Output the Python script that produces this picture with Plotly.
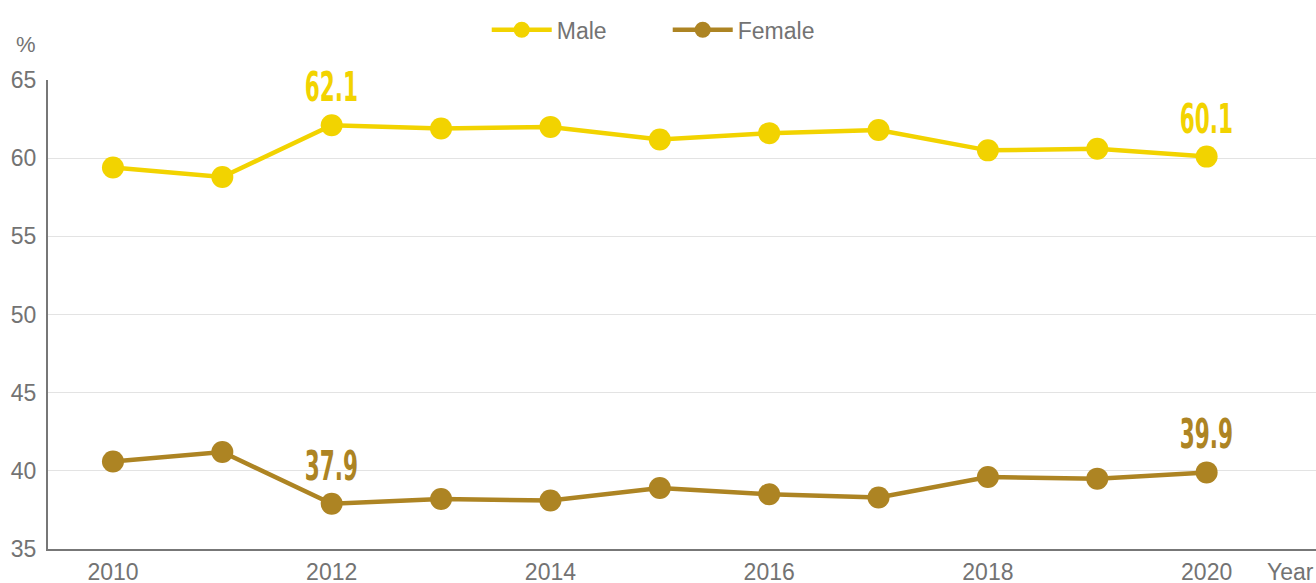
import plotly.graph_objects as go

years = [2010, 2011, 2012, 2013, 2014, 2015, 2016, 2017, 2018, 2019, 2020]
male = [59.4, 58.8, 62.1, 61.9, 62.0, 61.2, 61.6, 61.8, 60.5, 60.6, 60.1]
female = [40.6, 41.2, 37.9, 38.2, 38.1, 38.9, 38.5, 38.3, 39.6, 39.5, 39.9]
tick_years = [2010, 2012, 2014, 2016, 2018, 2020]
y_ticks = [35, 40, 45, 50, 55, 60, 65]
labeled_years = [2012, 2020]

MALE_C = "#F2D300"
FEMALE_C = "#AD8423"
GRAY = "#737373"
BASE_FONT = "Liberation Sans, Arial, sans-serif"
LABEL_FONT = "DejaVu Sans Condensed, DejaVu Sans, sans-serif"
FS = 23

fig = go.Figure()
fig.add_trace(go.Scatter(x=years, y=male, name="Male", mode="lines+markers",
                         line=dict(color=MALE_C, width=4.5),
                         marker=dict(color=MALE_C, size=22)))
fig.add_trace(go.Scatter(x=years, y=female, name="Female", mode="lines+markers",
                         line=dict(color=FEMALE_C, width=4.5),
                         marker=dict(color=FEMALE_C, size=22)))

for yr in labeled_years:
    i = years.index(yr)
    for vals, col in ((male, MALE_C), (female, FEMALE_C)):
        fig.add_annotation(x=yr, y=vals[i], text=f"<b>{vals[i]:.1f}</b>", showarrow=False,
                           yanchor="bottom", yshift=13,
                           font=dict(family=LABEL_FONT, size=40, color=col))

fig.add_annotation(text="%", xref="paper", yref="paper", x=-0.017, y=1.075,
                   xanchor="center", yanchor="middle", showarrow=False,
                   font=dict(family=BASE_FONT, size=22, color=GRAY))
fig.add_annotation(text="Year", xref="paper", yref="paper", x=1.0, y=-0.048,
                   xanchor="right", yanchor="middle", showarrow=False,
                   font=dict(family=BASE_FONT, size=FS, color=GRAY))

fig.update_layout(
    width=1316, height=583,
    margin=dict(l=48, r=0, t=80, b=34, autoexpand=False),
    paper_bgcolor="white", plot_bgcolor="white",
    font=dict(family=BASE_FONT, size=FS, color=GRAY),
    showlegend=True,
    legend=dict(orientation="h", x=0.346, y=1.107, xanchor="left", yanchor="middle",
                font=dict(size=FS, color=GRAY), itemwidth=60, entrywidth=106,
                traceorder="normal", bgcolor="rgba(0,0,0,0)"),
    xaxis=dict(range=[2009.406, 2021.0], tickmode="array", tickvals=tick_years,
               ticktext=[str(t) for t in tick_years], showgrid=False, zeroline=False,
               showline=True, linecolor="#777777", linewidth=2, ticks="", automargin=False,
               ticklabelstandoff=1, tickfont=dict(size=FS, color=GRAY)),
    yaxis=dict(range=[35, 65], tickmode="array", tickvals=y_ticks, showgrid=True,
               gridcolor="#e3e3e3", gridwidth=1, zeroline=False, showline=True,
               linecolor="#777777", linewidth=2, ticks="", ticklabelstandoff=5,
               automargin=False, tickfont=dict(size=FS, color=GRAY)),
)

post = """
document.body.style.margin = '0';
var gd = document.getElementById('{plot_id}');
function squeezeLabels() {
  var ts = gd.querySelectorAll('text.annotation-text');
  ts.forEach(function(t) {
    if (/^\\d+\\.\\d$/.test(t.textContent.trim())) {
      t.style.transformBox = 'fill-box';
      t.style.transformOrigin = 'center bottom';
      t.style.transform = 'scaleX(0.6)';
    }
  });
}
squeezeLabels();
setTimeout(squeezeLabels, 0);
gd.on('plotly_afterplot', squeezeLabels);
"""

fig.write_html("out.html", post_script=post, config={"displayModeBar": False})
